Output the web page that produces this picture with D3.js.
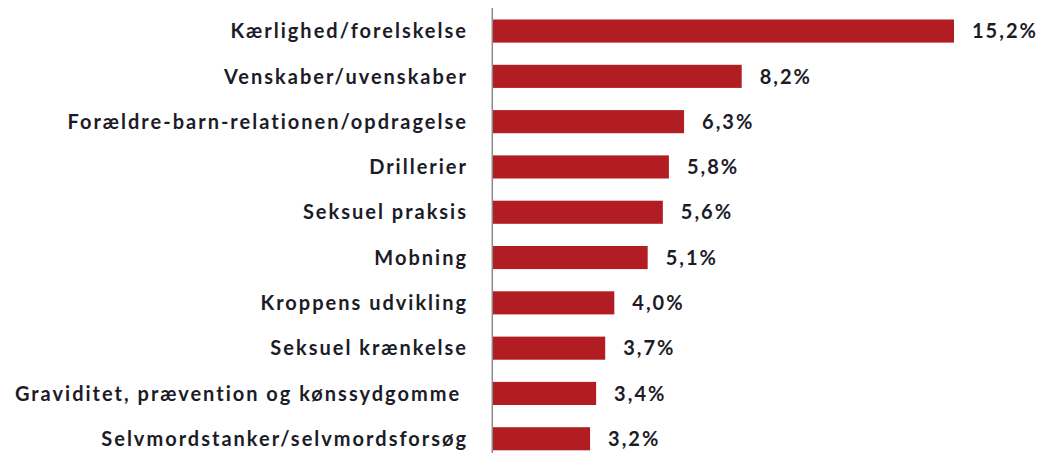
<!DOCTYPE html>
<html>
<head>
<meta charset="utf-8">
<script src="https://cdn.jsdelivr.net/npm/d3@7"></script>
<style>
  body { margin: 0; background: #fff; }
  svg { display: block; }
</style>
</head>
<body>
<div id="wrapper"></div>
<script>
// data
const categories = [
  "Kærlighed/forelskelse",
  "Venskaber/uvenskaber",
  "Forældre-barn-relationen/opdragelse",
  "Drillerier",
  "Seksuel praksis",
  "Mobning",
  "Kroppens udvikling",
  "Seksuel krænkelse",
  "Graviditet, prævention og kønssydgomme ",
  "Selvmordstanker/selvmordsforsøg"
]
const values = [15.2, 8.2, 6.3, 5.8, 5.6, 5.1, 4.0, 3.7, 3.4, 3.2]
const valueLabels = ["15,2%", "8,2%", "6,3%", "5,8%", "5,6%", "5,1%", "4,0%", "3,7%", "3,4%", "3,2%"]

const dataset = categories.map((c, i) => ({ category: c, value: values[i], label: valueLabels[i] }))

function drawBars() {
  const xAccessor = d => d.value
  const yAccessor = d => d.category

  let dimensions = {
    width: 1041,
    height: 453,
    margin: { top: 8.4, right: 87, bottom: 0, left: 493 }
  }
  dimensions.boundedWidth = dimensions.width - dimensions.margin.left - dimensions.margin.right
  const step = 45.3
  dimensions.boundedHeight = step * categories.length

  const wrapper = d3.select("#wrapper")
    .append("svg")
      .attr("width", dimensions.width)
      .attr("height", dimensions.height)

  const bounds = wrapper.append("g")
    .attr("transform", `translate(${dimensions.margin.left}, ${dimensions.margin.top})`)

  const xScale = d3.scaleLinear()
    .domain([0, d3.max(dataset, xAccessor)])
    .range([0, 461])

  const yScale = d3.scaleBand()
    .domain(categories)
    .range([0, dimensions.boundedHeight])
    .paddingInner(0.49)
    .paddingOuter(0.245)

  // bars
  bounds.append("g")
    .selectAll("rect")
    .data(dataset)
    .join("rect")
      .attr("x", 0)
      .attr("y", d => yScale(yAccessor(d)))
      .attr("width", d => xScale(xAccessor(d)))
      .attr("height", yScale.bandwidth())
      .attr("fill", "#b21c23")

  // value labels
  bounds.append("g")
    .selectAll("text")
    .data(dataset)
    .join("text")
      .attr("x", d => xScale(xAccessor(d)) + 18)
      .attr("y", d => yScale(yAccessor(d)) + yScale.bandwidth() / 2)
      .attr("dy", "0.36em")
      .text(d => d.label)
      .attr("fill", "#1c1c28")
      .style("font-family", "Lato, sans-serif")
      .style("font-weight", "bold")
      .style("font-size", "20px")
      .style("letter-spacing", "2px")

  // y axis (category labels, no ticks)
  const yAxisGenerator = d3.axisLeft(yScale)
    .tickSize(0)
    .tickPadding(25)

  const yAxis = bounds.append("g")
    .call(yAxisGenerator)

  yAxis.select(".domain").remove()
  yAxis.selectAll("text")
    .attr("dy", "0.36em")
    .attr("fill", "#1c1c28")
    .style("white-space", "pre")
    .style("font-family", "Lato, sans-serif")
    .style("font-weight", "bold")
    .style("font-size", "20px")
    .style("letter-spacing", "2px")

  // vertical axis line
  bounds.append("line")
    .attr("x1", -0.7)
    .attr("x2", -0.7)
    .attr("y1", -dimensions.margin.top + 8)
    .attr("y2", dimensions.height)
    .attr("stroke", "#8a8a8a")
    .attr("stroke-width", 1.5)
}

drawBars()
</script>
</body>
</html>
